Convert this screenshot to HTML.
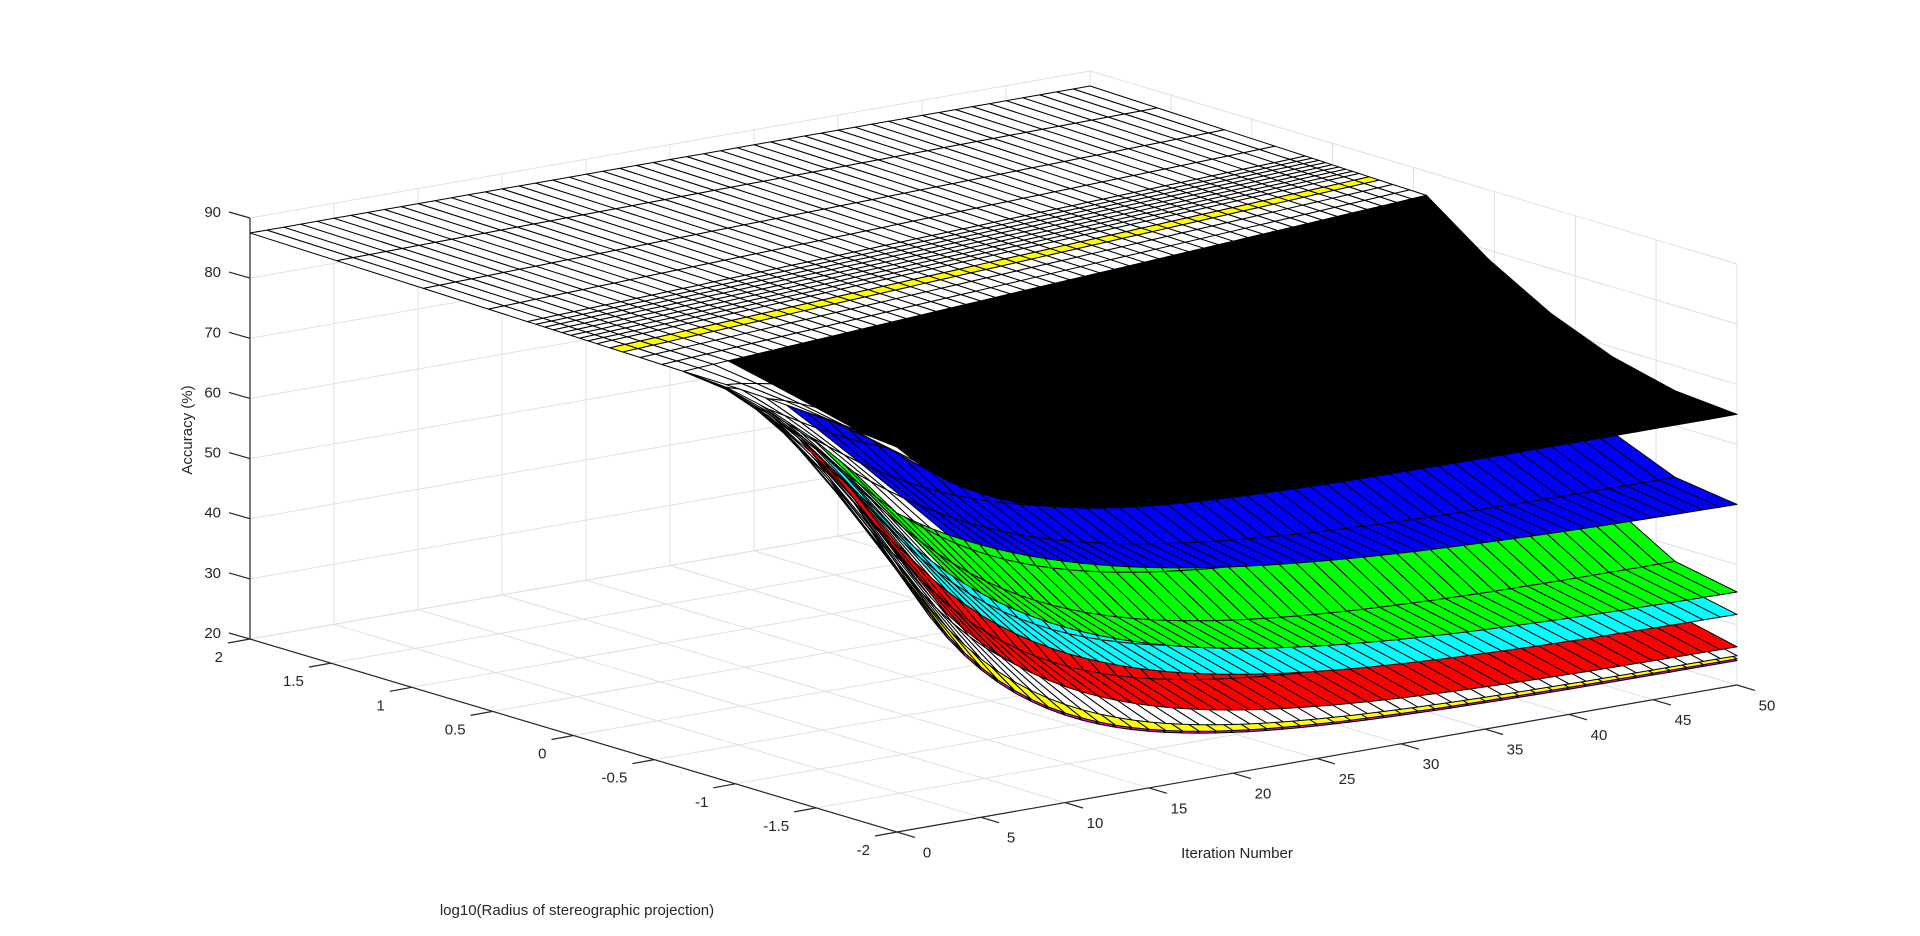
<!DOCTYPE html>
<html>
<head>
<meta charset="utf-8">
<style>
html,body{margin:0;padding:0;background:#fff;}
svg{display:block;}
text{font-family:"Liberation Sans",Arial,sans-serif;fill:#262626;}
</style>
</head>
<body>
<svg id="chart" width="1920" height="936" viewBox="0 0 1920 936" xmlns="http://www.w3.org/2000/svg">
  <g id="grid"></g>
  <g id="axes"></g>
  <g id="surfaces"></g>
  <text x="0" y="0" font-size="15" text-anchor="middle" transform="translate(192,430) rotate(-90)">Accuracy (%)</text>
  <text x="1237" y="858" font-size="15" text-anchor="middle">Iteration Number</text>
  <text x="577" y="915" font-size="15" text-anchor="middle">log10(Radius of stereographic projection)</text>
</svg>
<script>
// ---- data ----
const layerNames = ['magenta','yellow','white','red','cyan','green','blue','black'];
const layerColors = ['#ff00ff','#ffff00','#ffffff','#ff0000','#00ffff','#00ff00','#0000ff','#000000'];
const finalAcc = [24.0, 24.3, 24.8, 26.2, 31.5, 35.1, 49.6, 65.0];
const startAcc = [64, 64.5, 65, 66, 68, 70, 73, 84];
const decayTau = [0.15, 0.15, 0.16, 0.18, 0.20, 0.22, 0.25, 0.13];
const plateauAcc = 86;
const topAcc = 87.5;
const iterTicks = [0,5,10,15,20,25,30,35,40,45,50];
const radiusTicks = [2,1.5,1,0.5,0,-0.5,-1,-1.5,-2];
const radiusTickLabels = ['2','1.5','1','0.5','0','-0.5','-1','-1.5','-2'];
const accTicks = [20,30,40,50,60,70,80,90];

// ---- projection (axis functions) ----
const ITER_MAX = 50, R_MIN = -2, R_MAX = 2, Z_MIN = 20, Z_MAX = 90;
function uOf(it){ return it/ITER_MAX; }
function vOf(r){ return (r-R_MIN)/(R_MAX-R_MIN); }
function proj(u,v,z){
  return [897 + 840*u - 647*v, 832 - 147*u - 193*v - (z-Z_MIN)*421/(Z_MAX-Z_MIN)];
}
const NS='http://www.w3.org/2000/svg';
function mk(tag, attrs, parent){
  const e=document.createElementNS(NS,tag);
  for(const k in attrs) e.setAttribute(k,attrs[k]);
  parent.appendChild(e); return e;
}
function line(p,q,stroke,w,parent){
  return mk('line',{x1:p[0].toFixed(1),y1:p[1].toFixed(1),x2:q[0].toFixed(1),y2:q[1].toFixed(1),stroke:stroke,'stroke-width':w},parent);
}

// ---- grid ----
const grid=document.getElementById('grid');
const GC='#e0e0e0';
iterTicks.forEach(it=>{
  const u=uOf(it);
  const l1=line(proj(u,0,Z_MIN),proj(u,1,Z_MIN),GC,1,grid);
  
  
  const l2=line(proj(u,1,Z_MIN),proj(u,1,Z_MAX),GC,1,grid);
  
  
});
radiusTicks.forEach(r=>{
  const v=vOf(r);
  const l1=line(proj(0,v,Z_MIN),proj(1,v,Z_MIN),GC,1,grid);
  
  
  const l2=line(proj(1,v,Z_MIN),proj(1,v,Z_MAX),GC,1,grid);
  
  
});
accTicks.forEach(z=>{
  const l1=line(proj(0,1,z),proj(1,1,z),GC,1,grid);
  
  
  const l2=line(proj(1,1,z),proj(1,0,z),GC,1,grid);
  
  
});

// ---- axes ----
const axes=document.getElementById('axes');
const AC='#262626';
let al=line(proj(0,1,Z_MIN),proj(0,1,Z_MAX),AC,1.2,axes);


al=line(proj(0,0,Z_MIN),proj(0,1,Z_MIN),AC,1.2,axes);


al=line(proj(0,0,Z_MIN),proj(1,0,Z_MIN),AC,1.2,axes);


accTicks.forEach(z=>{
  const p=proj(0,1,z); const q=[p[0]-21,p[1]-6];
  const t=line(p,q,AC,1.2,axes);
  
  
  const tx=mk('text',{x:(q[0]-8).toFixed(1),y:(q[1]+5).toFixed(1),'font-size':15,'text-anchor':'end'},axes);
  tx.textContent=String(z);
  
  
});
radiusTicks.forEach((r,i)=>{
  const p=proj(0,vOf(r),Z_MIN); const q=[p[0]-22,p[1]+4];
  const t=line(p,q,AC,1.2,axes);
  
  
  const tx=mk('text',{x:(q[0]-5).toFixed(1),y:(q[1]+19).toFixed(1),'font-size':15,'text-anchor':'end'},axes);
  tx.textContent=radiusTickLabels[i];
  
  
});
iterTicks.forEach(it=>{
  const p=proj(uOf(it),0,Z_MIN); const q=[p[0]+18,p[1]+5.4];
  const t=line(p,q,AC,1.2,axes);
  
  
  const tx=mk('text',{x:(q[0]+12).toFixed(1),y:(q[1]+20).toFixed(1),'font-size':15,'text-anchor':'middle'},axes);
  tx.textContent=String(it);
  
  
});

// ---- surfaces ----
const surf=document.getElementById('surfaces');
const slopeS=[0,0.2,0.4,0.6,0.8,1];
const flatT=[0,0.05,0.1,0.14,0.17,0.2,0.22,0.24,0.26,0.28,0.3,0.32,0.34,0.36,0.45,0.6,0.8,1];
function vc(u){ return 0.33+0.15*u; }
function zLow(k,u){ return finalAcc[k]+(startAcc[k]-finalAcc[k])*Math.exp(-u/decayTau[k]); }
function profile(u,s){
  const w=Math.exp(-u/0.1);
  return w*(1-(1-s)*(1-s))+(1-w)*s*s;
}
function slopePt(k,u,s){
  const v=s*vc(u);
  const z=zLow(k,u)+(plateauAcc-zLow(k,u))*profile(u,s);
  return proj(u,v,z);
}
function flatPt(u,t){
  const v=vc(u)+t*(1-vc(u));
  return proj(u,v,plateauAcc+(topAcc-plateauAcc)*t);
}
const NU=ITER_MAX;
for(let k=0;k<finalAcc.length;k++){
  const g=mk('g',{},surf);
  
  
  const faces=[];
  const top=(k===finalAcc.length-1);
  for(let i=0;i<NU;i++){
    const u0=i/NU,u1=(i+1)/NU;
    for(let j=0;j<slopeS.length-1;j++){
      const s0=slopeS[j],s1=slopeS[j+1];
      const pts=[slopePt(k,u0,s0),slopePt(k,u1,s0),slopePt(k,u1,s1),slopePt(k,u0,s1)];
      let col=(u0>=0.06)?layerColors[k]:'#ffffff';
      const depth=147*(u0+u1)/2+193*((s0+s1)/2*vc((u0+u1)/2));
      faces.push({pts,col,depth});
    }
    if(top){
      for(let j=0;j<flatT.length-1;j++){
        const t0=flatT[j],t1=flatT[j+1];
        const pts=[flatPt(u0,t0),flatPt(u1,t0),flatPt(u1,t1),flatPt(u0,t1)];
        const col=(j===3)?'#ffff00':'#ffffff';
        const vm=vc((u0+u1)/2)+(t0+t1)/2*(1-vc((u0+u1)/2));
        faces.push({pts,col,depth:147*(u0+u1)/2+193*vm});
      }
    }
  }
  faces.sort((a,b)=>b.depth-a.depth);
  faces.forEach(f=>{
    const p=mk('polygon',{points:f.pts.map(q=>q[0].toFixed(1)+','+q[1].toFixed(1)).join(' '),fill:f.col,stroke:'#000','stroke-width':1,'stroke-linejoin':'round'},g);
    
    
  });
}
</script>
</body>
</html>
